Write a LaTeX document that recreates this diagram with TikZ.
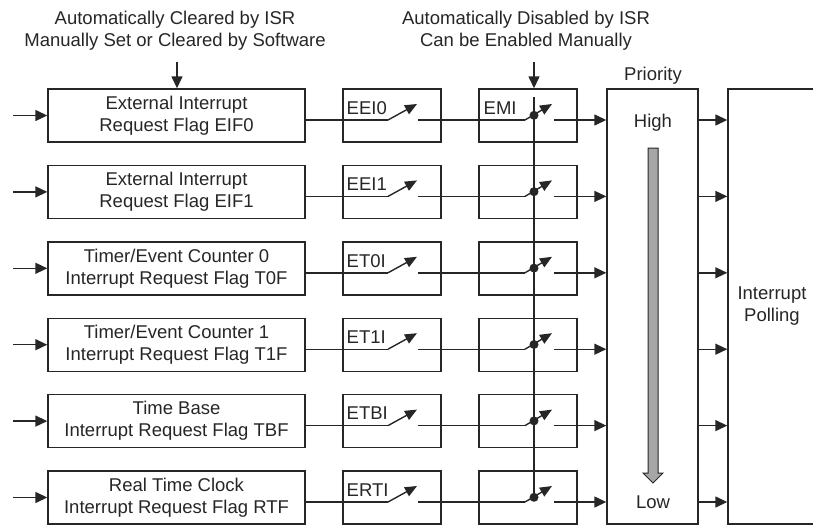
\documentclass[tikz,border=0pt]{standalone}
\usepackage{fontspec}
\setmainfont{Liberation Sans}
\usetikzlibrary{arrows.meta}
\usetikzlibrary{positioning}

\begin{document}
\begin{tikzpicture}[
    x=1pt, y=-1pt,
    line width=1.4pt, draw=black!85,
    every node/.style={font=\fontsize{18.5}{22}\selectfont, text=black!85},
    flag/.style={draw, minimum width=257pt, minimum height=53pt, align=center, inner sep=0pt},
    enbox/.style={draw, minimum width=98pt, minimum height=53pt, inner sep=0pt},
    tag/.style={anchor=west, inner sep=0pt},
    dot/.style={circle, fill=black!85, inner sep=0pt, minimum size=9pt},
    tip/.style={-{Triangle[length=12pt, width=11pt]}},
    arm/.style={-{Triangle[length=12pt, width=10pt]}}
]
    \useasboundingbox (0,0) rectangle (813,527);

    % 1. Testi in alto e blocchi di destra
    \node[align=center] (clr) at (175,30.5) {Automatically Cleared by ISR\\Manually Set or Cleared by Software};
    \node[align=center] (dis) at (526,30.5) {Automatically Disabled by ISR\\Can be Enabled Manually};
    \node[draw, minimum width=91pt, minimum height=435pt] (prio) at (652.5,306.5) {};
    \node (prtit) at (653,76) {Priority};
    \node (high) at (653,123) {High};
    \node (low) at (653,502) {Low};
    \node[draw, minimum width=88pt, minimum height=435pt, align=center] (poll) at (772,306.5) {Interrupt\\Polling};

    % freccia grigia della priorità
    \draw[fill=black!35, line width=1pt] (648,148) -- (658,148) -- (658,473) -- (663,473)
        -- (653,483) -- (643,473) -- (648,473) -- cycle;

    % 2. Le sei righe: flag, abilitazione singola, abilitazione globale
    \foreach \r/\la/\lb/\en in {1/External Interrupt/Request Flag EIF0/EEI0,
        2/External Interrupt/Request Flag EIF1/EEI1,
        3/{Timer/Event Counter 0}/Interrupt Request Flag T0F/ET0I,
        4/{Timer/Event Counter 1}/Interrupt Request Flag T1F/ET1I,
        5/Time Base/Interrupt Request Flag TBF/ETBI,
        6/Real Time Clock/Interrupt Request Flag RTF/ERTI} {
        \pgfmathsetmacro{\yy}{120+76.4*(\r-1)}
        \node[flag] (f\r) at (176.5,\yy-4.5) {\la\\\lb};
        \node[enbox] (e\r) at (392,\yy-4.5) {};
        \node[enbox] (m\r) at (528,\yy-4.5) {};
        \node[tag] (t\r) at (346,\yy-12) {\en};
        \node[dot] (k\r) at (534,\yy-4.7) {};
        \coordinate (in\r) at (13,\yy-4.5);
        \coordinate (a\r) at (388,\yy);
        \coordinate (b\r) at (418,\yy);
        \coordinate (c\r) at (525,\yy);
        \coordinate (d\r) at (554,\yy);
        \draw[tip] (in\r) -- (f\r);
        \draw (f\r.east |- a\r) -- (a\r);
        \draw[arm] (a\r) -- ++(29,-16);
        \draw (b\r) -- (c\r);
        \draw[arm] (c\r) -- ++(27,-16);
        \draw[tip] (d\r) -- (d\r -| prio.west);
        \draw[tip] (d\r -| prio.east) -- (d\r -| poll.west);
    }

    % 3. Abilitazione globale EMI e frecce dall'alto
    \node[tag] (emi) at (483,108) {EMI};
    \coordinate (top1) at (177,62);
    \coordinate (top2) at (534,62);
    \coordinate (bus) at (534,97);
    \draw[tip] (top1) -- (top1 |- f1.north);
    \draw[tip] (top2) -- (top2 |- m1.north);
    \draw (bus) -- (k6.center);

\end{tikzpicture}
\end{document}
